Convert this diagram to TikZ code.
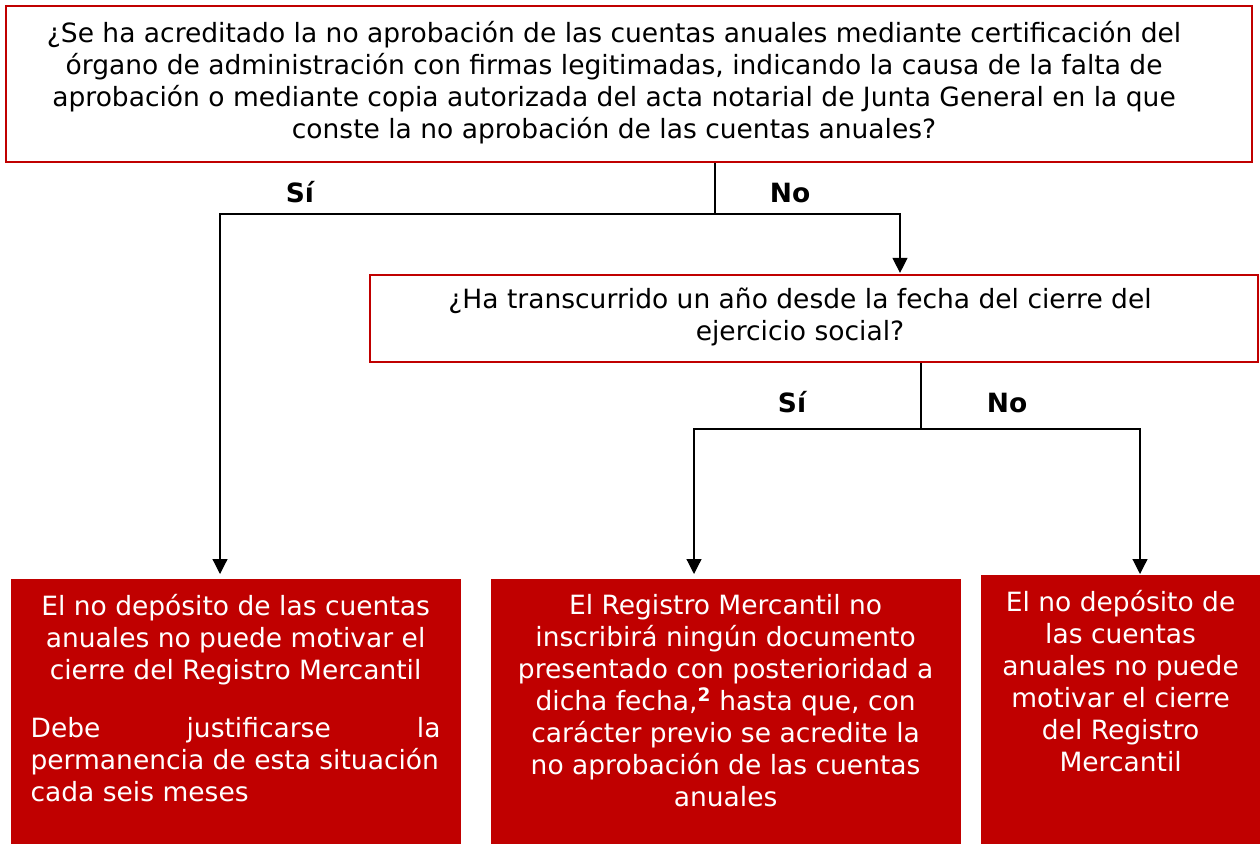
\documentclass[tikz,border=0pt]{standalone}
\usepackage{fontspec}
\setmainfont{DejaVu Sans}
\usetikzlibrary{arrows.meta}
\definecolor{rojo}{HTML}{C00000}
\tikzset{
  pregunta/.style={draw=rojo, line width=2.2pt, inner sep=0pt, align=center},
  respuesta/.style={fill=rojo, text=white, anchor=north west, inner xsep=0pt, inner ysep=16pt},
  etiqueta/.style={font=\fontsize{26.5}{30}\selectfont\bfseries},
  flecha/.style={-{Triangle[length=15pt,width=15pt]}}
}
\begin{document}
\begin{tikzpicture}[x=1pt, y=-1pt, font=\fontsize{26.5}{32}\selectfont, line width=1.2pt]

\useasboundingbox[fill=white] (0,0) rectangle (1260,843);

% preguntas
\node[pregunta, minimum width=1246pt, minimum height=156pt] (q1) at (629,84)
  {\begin{tabular}{@{}c@{\hspace{30pt}}}
   ¿Se ha acreditado la no aprobación de las cuentas anuales mediante certificación del\\
   órgano de administración con firmas legitimadas, indicando la causa de la falta de\\
   aprobación o mediante copia autorizada del acta notarial de Junta General en la que\\
   conste la no aprobación de las cuentas anuales?
   \end{tabular}};
\node[pregunta, minimum width=888pt, minimum height=87pt] (q2) at (814,318.5)
  {\begin{tabular}{@{}c@{\hspace{28pt}}}
   ¿Ha transcurrido un año desde la fecha del cierre del\\ ejercicio social?
   \end{tabular}};

% respuestas
\node[respuesta, minimum width=450pt] (rA) at (10,578)
  {\parbox[t][250pt][t]{410pt}{\centering
   El no depósito de las cuentas\\ anuales no puede motivar el\\ cierre del Registro Mercantil\par
   \vspace{26pt}\raggedright
   Debe\hfill justificarse\hfill la\\ permanencia de esta situación\\ cada seis meses}};
\node[respuesta, minimum width=470pt] (rB) at (490,578)
  {\parbox[t][250pt][t]{440pt}{\centering
   El Registro Mercantil no\\ inscribirá ningún documento\\ presentado con posterioridad a\\
   dicha fecha,\textsuperscript{\textbf{2}} hasta que, con\\ carácter previo se acredite la\\
   no aprobación de las cuentas\\ anuales}};
\node[respuesta, minimum width=280pt] (rC) at (980,574)
  {\parbox[t][250pt][t]{280pt}{\centering
   El no depósito de\\ las cuentas\\ anuales no puede\\ motivar el cierre\\ del Registro\\ Mercantil}};

% conectores
\coordinate (j1) at (715,214);
\coordinate (a1) at (220,214);
\coordinate (b1) at (900,214);
\draw (q1.south -| j1) -- (j1);
\draw[flecha, shorten >=4pt] (j1) -- (a1) -- (a1 |- rA.north);
\draw[flecha, shorten >=1pt] (j1) -- (b1) -- (b1 |- q2.north);

\coordinate (j2) at (921,429);
\coordinate (a2) at (694,429);
\coordinate (b2) at (1140,429);
\draw (q2.south -| j2) -- (j2);
\draw[flecha, shorten >=4pt] (j2) -- (a2) -- (a2 |- rB.north);
\draw[flecha] (j2) -- (b2) -- (b2 |- rC.north);

% etiquetas
\node[etiqueta] (si1) at (300,192) {Sí};
\node[etiqueta] (no1) at (790,193) {No};
\node[etiqueta] (si2) at (792,402) {Sí};
\node[etiqueta] (no2) at (1007,403) {No};
\end{tikzpicture}
\end{document}
